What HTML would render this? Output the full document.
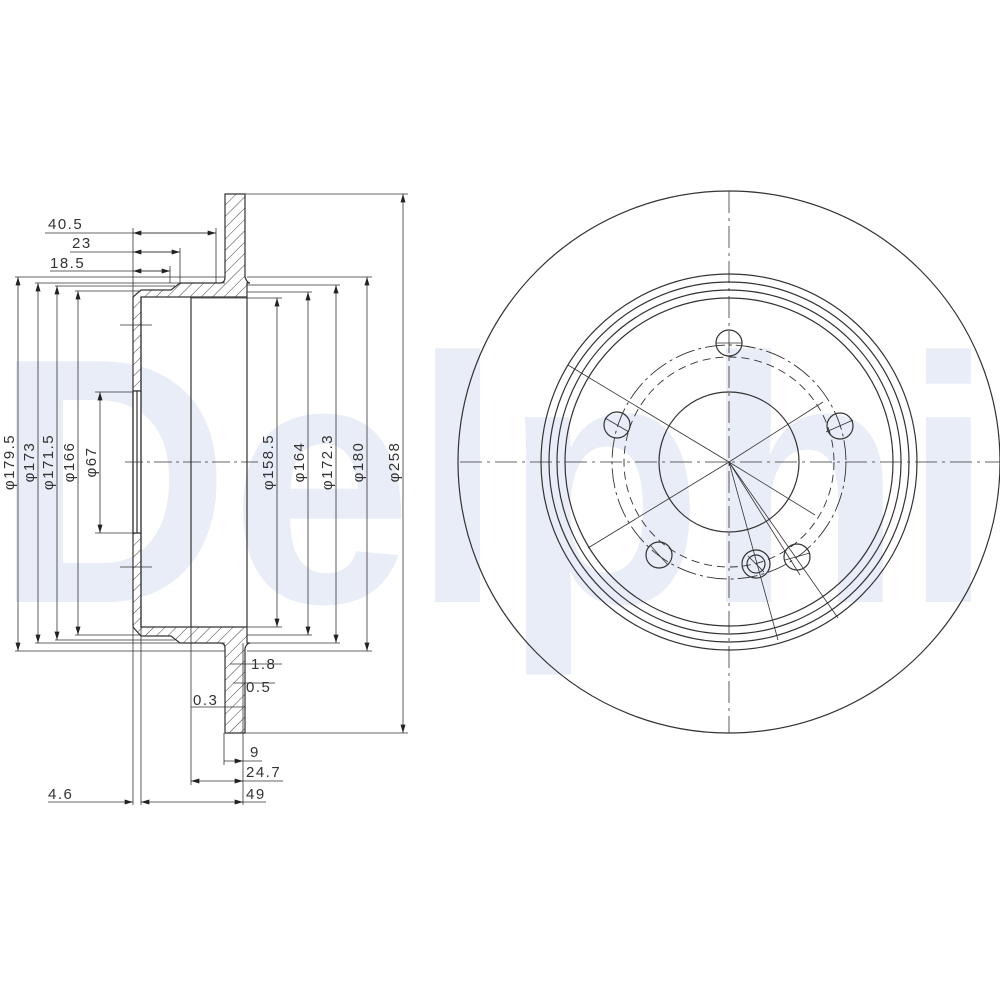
<!DOCTYPE html>
<html><head><meta charset="utf-8"><style>
html,body{margin:0;padding:0;background:#fff;}
svg{display:block;}
text{font-family:"Liberation Sans",sans-serif;fill:#333;letter-spacing:1.5px;}
</style></head><body>
<svg width="1000" height="1000" viewBox="0 0 1000 1000" xmlns="http://www.w3.org/2000/svg">
<defs>
<pattern id="h" width="8" height="8" patternUnits="userSpaceOnUse" patternTransform="rotate(45)">
<rect width="8" height="8" fill="#fff"/><line x1="0" y1="0" x2="0" y2="8" stroke="#444" stroke-width="1"/>
</pattern>
<marker id="a" viewBox="0 0 10 6" refX="10" refY="3" markerWidth="9" markerHeight="5" orient="auto-start-reverse" markerUnits="userSpaceOnUse"><path d="M0,0L10,3L0,6z" fill="#222"/></marker>
</defs>
<!-- watermark -->
<text x="-6" y="602" font-size="350" font-weight="bold" textLength="1000" lengthAdjust="spacingAndGlyphs" style="fill:#e8edf7;letter-spacing:0">Delphi</text>

<g stroke="#333" stroke-width="1.2" fill="none">
<path d="M225,194 H245 V277 Q247,283 250,283 H247 V297 H141 V391 H133 V297 L141,290 H171 L180,283 H220 Q225,283 225,277 Z" fill="url(#h)"/>
<path d="M225,733 H245 V648 Q247,643 250,643 H247 V627 H141 V533 H133 V627 L141,636 H171 L180,643 H220 Q225,643 225,648 Z" fill="url(#h)"/>
<rect x="133" y="391" width="8" height="142" fill="#fff"/>
<line x1="133" y1="391" x2="133" y2="533"/><line x1="137" y1="391" x2="137" y2="533"/><line x1="141" y1="297" x2="141" y2="627"/>
<line x1="191" y1="297" x2="191" y2="627"/>
<line x1="247" y1="297" x2="247" y2="627"/>
<line x1="120" y1="325" x2="152" y2="325" stroke-width="0.8"/><line x1="120" y1="567" x2="152" y2="567" stroke-width="0.8"/>
<line x1="125" y1="462" x2="258" y2="462" stroke-dasharray="18,4,3,4" stroke-width="0.8"/>
</g>

<g stroke="#333" stroke-width="0.8" fill="none">
<line x1="15" y1="277" x2="225" y2="277"/><line x1="15" y1="651" x2="225" y2="651"/>
<line x1="35" y1="283" x2="225" y2="283"/><line x1="35" y1="643" x2="225" y2="643"/>
<line x1="55" y1="286" x2="175" y2="286"/><line x1="55" y1="640" x2="175" y2="640"/>
<line x1="75" y1="291" x2="141" y2="291"/><line x1="75" y1="635" x2="141" y2="635"/>
<line x1="95" y1="392" x2="133" y2="392"/><line x1="95" y1="533" x2="133" y2="533"/>
<line x1="245" y1="194" x2="408" y2="194"/><line x1="245" y1="733" x2="408" y2="733"/>
<line x1="247" y1="277" x2="372" y2="277"/><line x1="247" y1="651" x2="372" y2="651"/>
<line x1="247" y1="285" x2="340" y2="285"/><line x1="247" y1="643" x2="340" y2="643"/>
<line x1="247" y1="292" x2="312" y2="292"/><line x1="247" y1="635" x2="312" y2="635"/>
<line x1="191" y1="298" x2="282" y2="298"/><line x1="191" y1="627" x2="282" y2="627"/>
<line x1="18" y1="277" x2="18" y2="651" marker-start="url(#a)" marker-end="url(#a)"/>
<line x1="38" y1="283" x2="38" y2="643" marker-start="url(#a)" marker-end="url(#a)"/>
<line x1="57" y1="286" x2="57" y2="640" marker-start="url(#a)" marker-end="url(#a)"/>
<line x1="78" y1="291" x2="78" y2="635" marker-start="url(#a)" marker-end="url(#a)"/>
<line x1="100" y1="392" x2="100" y2="533" marker-start="url(#a)" marker-end="url(#a)"/>
<line x1="277" y1="298" x2="277" y2="627" marker-start="url(#a)" marker-end="url(#a)"/>
<line x1="308" y1="292" x2="308" y2="635" marker-start="url(#a)" marker-end="url(#a)"/>
<line x1="336" y1="285" x2="336" y2="643" marker-start="url(#a)" marker-end="url(#a)"/>
<line x1="367" y1="277" x2="367" y2="651" marker-start="url(#a)" marker-end="url(#a)"/>
<line x1="403" y1="194" x2="403" y2="733" marker-start="url(#a)" marker-end="url(#a)"/>
<line x1="133" y1="228" x2="133" y2="805"/>
<line x1="216" y1="228" x2="216" y2="283"/>
<line x1="180" y1="248" x2="180" y2="283"/>
<line x1="170" y1="266" x2="170" y2="283"/>
<line x1="45" y1="233" x2="216" y2="233"/><line x1="133" y1="233" x2="216" y2="233" marker-start="url(#a)" marker-end="url(#a)"/>
<line x1="70" y1="252" x2="180" y2="252"/><line x1="133" y1="252" x2="180" y2="252" marker-start="url(#a)" marker-end="url(#a)"/>
<line x1="50" y1="271" x2="170" y2="271"/><line x1="133" y1="271" x2="170" y2="271" marker-start="url(#a)" marker-end="url(#a)"/>
<line x1="243" y1="643" x2="243" y2="805"/>
<line x1="224" y1="733" x2="224" y2="765"/>
<line x1="191" y1="627" x2="191" y2="785"/>
<line x1="141" y1="627" x2="141" y2="805"/>
<line x1="230" y1="664" x2="282" y2="664"/><line x1="233" y1="683" x2="275" y2="683"/>
<line x1="191" y1="707" x2="245" y2="707"/>
<line x1="224" y1="761" x2="243" y2="761" marker-end="url(#a)"/><line x1="243" y1="761" x2="262" y2="761"/>
<line x1="191" y1="781" x2="243" y2="781" marker-start="url(#a)" marker-end="url(#a)"/><line x1="243" y1="781" x2="283" y2="781"/>
<line x1="141" y1="802" x2="243" y2="802" marker-start="url(#a)" marker-end="url(#a)"/><line x1="243" y1="802" x2="266" y2="802"/>
<line x1="48" y1="802" x2="133" y2="802" marker-end="url(#a)"/>
</g>

<g font-size="15">
<text x="48" y="229">40.5</text>
<text x="72" y="248">23</text>
<text x="50" y="268">18.5</text>
<text x="251" y="669">1.8</text>
<text x="246" y="692">0.5</text>
<text x="193" y="705">0.3</text>
<text x="250" y="757">9</text>
<text x="246" y="777">24.7</text>
<text x="246" y="799">49</text>
<text x="48" y="799">4.6</text>
<text transform="translate(14,462) rotate(-90)" text-anchor="middle">φ179.5</text>
<text transform="translate(34,462) rotate(-90)" text-anchor="middle">φ173</text>
<text transform="translate(53,462) rotate(-90)" text-anchor="middle">φ171.5</text>
<text transform="translate(74,462) rotate(-90)" text-anchor="middle">φ166</text>
<text transform="translate(96,462) rotate(-90)" text-anchor="middle">φ67</text>
<text transform="translate(273,462) rotate(-90)" text-anchor="middle">φ158.5</text>
<text transform="translate(304,462) rotate(-90)" text-anchor="middle">φ164</text>
<text transform="translate(332,462) rotate(-90)" text-anchor="middle">φ172.3</text>
<text transform="translate(363,462) rotate(-90)" text-anchor="middle">φ180</text>
<text transform="translate(399,462) rotate(-90)" text-anchor="middle">φ258</text>
</g>

<g stroke="#333" fill="none" stroke-width="1.2">
<circle cx="729" cy="462" r="271"/>
<circle cx="729" cy="462" r="188"/>
<circle cx="729" cy="462" r="180"/>
<circle cx="729" cy="462" r="172"/>
<circle cx="729" cy="462" r="164"/>
<circle cx="729" cy="462" r="70"/>
<circle cx="729" cy="462" r="117" stroke-dasharray="20,4,3,4" stroke-width="0.9"/>
<circle cx="729" cy="462" r="105" stroke-dasharray="8,5" stroke-width="0.9"/>
<circle cx="729" cy="343" r="13"/>
<circle cx="840" cy="426" r="13"/>
<circle cx="617" cy="425" r="13"/>
<circle cx="659" cy="555" r="13"/>
<circle cx="797" cy="557" r="13"/>
<circle cx="756" cy="564" r="14"/>
<circle cx="756" cy="564" r="9"/>
</g>
<g stroke="#333" fill="none" stroke-width="0.8">
<line x1="460" y1="462" x2="1000" y2="462" stroke-dasharray="22,5,3,5"/>
<line x1="729" y1="191" x2="729" y2="733" stroke-dasharray="22,5,3,5"/>
<line x1="729" y1="462" x2="568" y2="365"/>
<line x1="729" y1="462" x2="823" y2="402"/>
<line x1="729" y1="462" x2="588" y2="548"/>
<line x1="729" y1="462" x2="815" y2="515"/>
<line x1="729" y1="462" x2="778" y2="640"/>
<line x1="729" y1="462" x2="838" y2="618"/>
<line x1="729" y1="462" x2="800" y2="575"/>
<line x1="716" y1="343" x2="742" y2="343"/>
<line x1="605" y1="418" x2="629" y2="432"/><line x1="826" y1="432" x2="853" y2="420"/>
<line x1="650" y1="545" x2="668" y2="565"/><line x1="785" y1="560" x2="810" y2="553"/>
<line x1="748" y1="556" x2="764" y2="572"/>
</g>
</svg>
</body></html>
